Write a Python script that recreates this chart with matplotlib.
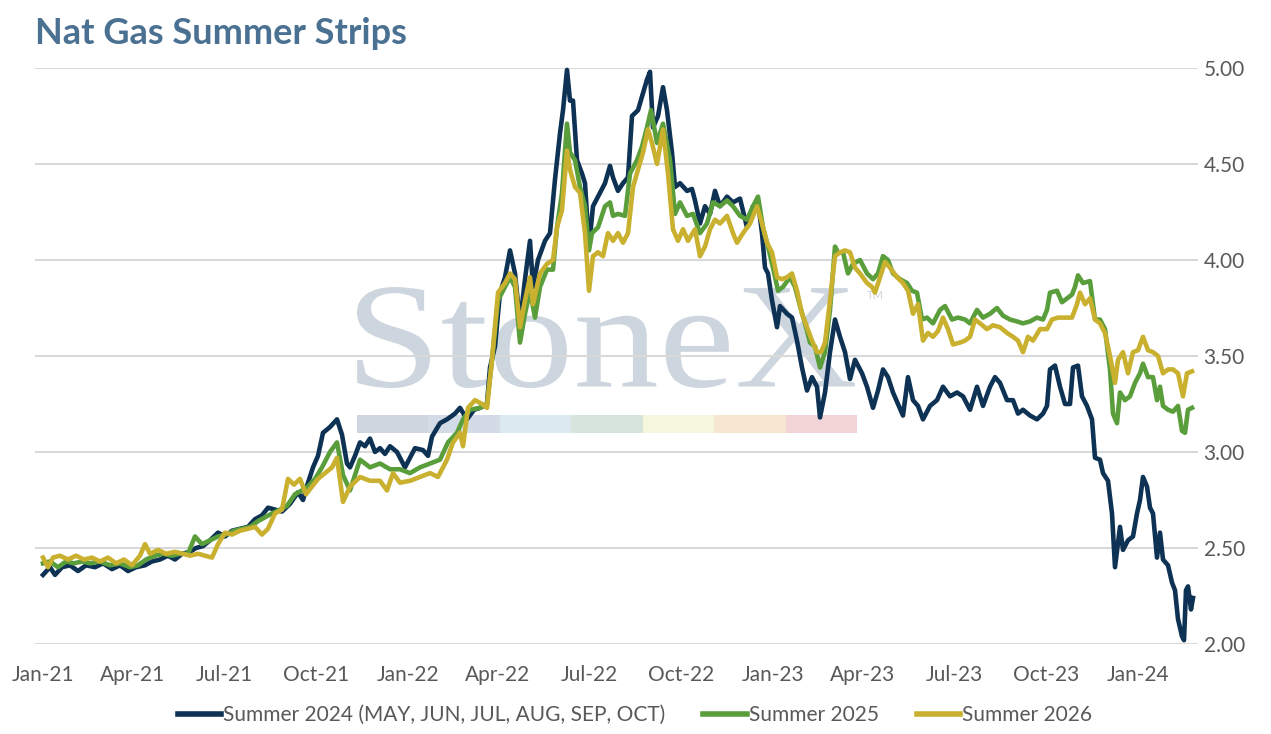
import matplotlib
matplotlib.use("Agg")
import matplotlib.pyplot as plt
import matplotlib.dates as mdates
from matplotlib.patches import Rectangle, PathPatch
from matplotlib.textpath import TextPath
from matplotlib.font_manager import FontProperties
from matplotlib.transforms import Affine2D
import pandas as pd

plt.rcParams['font.family'] = ['Lato', 'DejaVu Sans']

# dates are stored as days after 1 Jan 2021
base_date = pd.Timestamp('2021-01-01')

s24_days = [0, 7, 12, 19, 27, 35, 43, 52, 60, 69, 77, 85, 93, 102, 109, 117, 125, 132, 139, 147,
            153, 160, 167, 175, 182, 189, 197, 205, 212, 219, 225, 232, 239, 247, 255, 260, 265, 270,
            275, 280, 287, 294, 299, 304, 307, 312, 317, 322, 327, 332, 337, 342, 347, 354, 362, 367,
            372, 380, 385, 389, 397, 404, 412, 417, 424, 431, 437, 444, 447, 452, 457, 462, 467, 472,
            477, 482, 487, 490, 495, 502, 507, 512, 517, 520, 524, 527, 530, 534, 539, 542, 546, 550,
            557, 562, 567, 570, 575, 580, 585, 589, 595, 600, 604, 607, 610, 615, 620, 624, 629, 632,
            637, 644, 649, 652, 657, 662, 667, 672, 677, 684, 690, 697, 704, 710, 715, 719, 722, 725,
            729, 734, 737, 744, 749, 754, 759, 764, 769, 774, 777, 782, 787, 792, 797, 802, 807, 812,
            819, 824, 830, 835, 840, 845, 850, 855, 860, 865, 870, 875, 880, 887, 894, 900, 907, 914,
            920, 927, 934, 940, 947, 952, 957, 964, 970, 975, 980, 987, 994, 1000, 1004, 1007, 1012,
            1017, 1022, 1027, 1030, 1035, 1039, 1044, 1049, 1052, 1057, 1060, 1065, 1069, 1072, 1077,
            1080, 1085, 1090, 1094, 1097, 1100, 1104, 1107, 1110, 1114, 1117, 1120, 1125, 1129, 1132,
            1135, 1139, 1141, 1143, 1145, 1148, 1150]
s24_vals = [2.36, 2.40, 2.36, 2.40, 2.41, 2.38, 2.41, 2.40, 2.42, 2.39, 2.41, 2.38, 2.40, 2.41, 2.43,
            2.44, 2.46, 2.44, 2.47, 2.48, 2.50, 2.51, 2.54, 2.58, 2.56, 2.59, 2.60, 2.61, 2.65, 2.67,
            2.71, 2.70, 2.69, 2.73, 2.79, 2.75, 2.84, 2.92, 2.98, 3.10, 3.13, 3.17, 3.09, 2.94, 2.92,
            2.98, 3.05, 3.03, 3.07, 3.00, 3.02, 2.99, 3.03, 3.00, 2.92, 2.97, 3.02, 3.01, 2.98, 3.08,
            3.15, 3.17, 3.20, 3.23, 3.17, 3.22, 3.23, 3.25, 3.44, 3.55, 3.83, 3.91, 4.05, 3.93, 3.67,
            3.90, 4.10, 3.86, 4.00, 4.10, 4.14, 4.42, 4.66, 4.78, 4.99, 4.83, 4.83, 4.52, 4.45, 4.40,
            4.07, 4.28, 4.35, 4.40, 4.49, 4.43, 4.36, 4.40, 4.43, 4.75, 4.78, 4.87, 4.94, 4.98, 4.69,
            4.75, 4.90, 4.78, 4.56, 4.38, 4.40, 4.36, 4.37, 4.31, 4.19, 4.28, 4.24, 4.36, 4.28, 4.33,
            4.30, 4.32, 4.17, 4.28, 4.30, 4.14, 3.96, 3.93, 3.79, 3.65, 3.76, 3.72, 3.70, 3.58, 3.44,
            3.32, 3.39, 3.34, 3.18, 3.31, 3.52, 3.69, 3.60, 3.52, 3.38, 3.48, 3.41, 3.34, 3.23, 3.32,
            3.43, 3.39, 3.31, 3.25, 3.19, 3.39, 3.27, 3.24, 3.17, 3.24, 3.27, 3.34, 3.29, 3.31, 3.29,
            3.22, 3.34, 3.24, 3.34, 3.39, 3.36, 3.27, 3.27, 3.20, 3.22, 3.19, 3.17, 3.20, 3.24, 3.43,
            3.45, 3.34, 3.25, 3.25, 3.44, 3.45, 3.29, 3.24, 3.17, 2.97, 2.96, 2.89, 2.85, 2.68, 2.40,
            2.61, 2.49, 2.54, 2.56, 2.68, 2.75, 2.87, 2.82, 2.71, 2.68, 2.45, 2.58, 2.44, 2.41, 2.32,
            2.28, 2.13, 2.04, 2.02, 2.28, 2.30, 2.18, 2.24]

s25_days = [0, 7, 15, 23, 31, 39, 47, 57, 67, 77, 87, 95, 103, 112, 120, 129, 137, 145, 152, 159,
            167, 175, 183, 191, 199, 207, 215, 222, 229, 237, 244, 252, 259, 265, 272, 279, 287, 294,
            300, 307, 317, 327, 337, 347, 357, 367, 377, 387, 397, 405, 414, 420, 427, 437, 444, 449,
            455, 462, 467, 472, 477, 482, 487, 492, 497, 504, 510, 514, 519, 524, 527, 532, 537, 542,
            546, 549, 555, 562, 567, 570, 575, 582, 587, 594, 599, 604, 608, 614, 620, 627, 632, 637,
            644, 650, 657, 664, 670, 677, 684, 690, 697, 704, 710, 715, 720, 725, 730, 735, 740, 747,
            752, 757, 762, 767, 772, 777, 782, 787, 792, 795, 800, 805, 810, 817, 824, 830, 835, 840,
            845, 850, 857, 864, 869, 874, 879, 884, 890, 897, 902, 909, 915, 922, 927, 934, 940, 947,
            954, 960, 967, 974, 980, 987, 994, 1000, 1004, 1007, 1014, 1019, 1024, 1029, 1032, 1035,
            1040, 1047, 1052, 1057, 1062, 1067, 1070, 1074, 1077, 1082, 1087, 1092, 1097, 1100, 1105,
            1110, 1114, 1117, 1120, 1125, 1130, 1135, 1139, 1142, 1145, 1149]
s25_vals = [2.42, 2.43, 2.40, 2.43, 2.42, 2.43, 2.42, 2.43, 2.41, 2.42, 2.40, 2.41, 2.44, 2.46, 2.47,
            2.46, 2.47, 2.47, 2.56, 2.52, 2.54, 2.56, 2.57, 2.59, 2.60, 2.61, 2.64, 2.66, 2.68, 2.70,
            2.72, 2.78, 2.80, 2.82, 2.86, 2.92, 3.00, 3.05, 2.88, 2.80, 2.96, 2.92, 2.94, 2.91, 2.91,
            2.89, 2.92, 2.94, 2.96, 3.05, 3.10, 3.17, 3.22, 3.23, 3.25, 3.48, 3.79, 3.86, 3.91, 3.86,
            3.57, 3.72, 3.84, 3.70, 3.86, 3.95, 3.95, 4.17, 4.35, 4.71, 4.56, 4.52, 4.38, 4.28, 4.05,
            4.14, 4.17, 4.28, 4.30, 4.23, 4.24, 4.23, 4.45, 4.52, 4.59, 4.69, 4.78, 4.61, 4.71, 4.52,
            4.24, 4.30, 4.23, 4.24, 4.14, 4.19, 4.30, 4.28, 4.31, 4.28, 4.23, 4.21, 4.28, 4.33, 4.17,
            4.07, 3.96, 3.84, 3.86, 3.91, 3.86, 3.76, 3.67, 3.57, 3.55, 3.44, 3.52, 3.74, 4.07, 4.04,
            4.04, 3.93, 3.98, 4.00, 3.93, 3.90, 3.93, 4.02, 4.00, 3.93, 3.90, 3.88, 3.84, 3.83, 3.69,
            3.70, 3.67, 3.74, 3.76, 3.69, 3.70, 3.69, 3.67, 3.74, 3.70, 3.72, 3.75, 3.71, 3.69, 3.68,
            3.67, 3.68, 3.70, 3.69, 3.74, 3.83, 3.84, 3.78, 3.80, 3.82, 3.86, 3.92, 3.88, 3.89, 3.69,
            3.69, 3.64, 3.43, 3.20, 3.15, 3.31, 3.27, 3.29, 3.36, 3.41, 3.46, 3.39, 3.39, 3.27, 3.34,
            3.24, 3.22, 3.21, 3.24, 3.11, 3.10, 3.22, 3.23]

s26_days = [0, 5, 10, 17, 25, 33, 41, 49, 57, 65, 73, 81, 89, 97, 102, 107, 115, 123, 132, 140,
            147, 155, 162, 169, 175, 182, 189, 197, 205, 212, 219, 225, 232, 239, 245, 251, 257, 263,
            269, 275, 282, 289, 294, 300, 307, 317, 327, 337, 344, 350, 357, 367, 377, 387, 395, 404,
            410, 417, 420, 425, 432, 439, 444, 449, 455, 462, 467, 472, 477, 482, 487, 490, 497, 504,
            510, 514, 519, 524, 527, 532, 537, 542, 546, 550, 555, 560, 565, 570, 575, 580, 585, 590,
            595, 600, 605, 609, 614, 620, 625, 630, 635, 640, 645, 652, 657, 662, 667, 672, 677, 684,
            690, 694, 700, 707, 714, 719, 724, 729, 734, 739, 744, 749, 754, 759, 764, 769, 774, 778,
            782, 787, 792, 797, 802, 807, 812, 817, 824, 829, 832, 837, 842, 847, 854, 860, 865, 870,
            875, 880, 885, 890, 895, 900, 905, 910, 917, 922, 927, 932, 937, 944, 950, 957, 964, 970,
            975, 980, 985, 990, 997, 1004, 1009, 1015, 1022, 1029, 1034, 1037, 1042, 1047, 1052, 1057,
            1062, 1067, 1072, 1075, 1080, 1085, 1090, 1095, 1100, 1105, 1110, 1115, 1120, 1125, 1130,
            1135, 1140, 1144, 1149]
s26_vals = [2.45, 2.40, 2.45, 2.46, 2.44, 2.46, 2.44, 2.45, 2.43, 2.45, 2.42, 2.44, 2.41, 2.46, 2.52,
            2.47, 2.49, 2.47, 2.48, 2.47, 2.46, 2.47, 2.46, 2.45, 2.52, 2.58, 2.57, 2.59, 2.60, 2.61,
            2.57, 2.60, 2.68, 2.70, 2.86, 2.83, 2.86, 2.78, 2.82, 2.86, 2.89, 2.92, 2.97, 2.74, 2.82,
            2.87, 2.85, 2.85, 2.80, 2.89, 2.84, 2.85, 2.87, 2.89, 2.87, 2.96, 3.05, 3.10, 3.03, 3.23,
            3.27, 3.25, 3.23, 3.48, 3.83, 3.88, 3.93, 3.90, 3.65, 3.79, 3.91, 3.77, 3.93, 3.98, 4.00,
            4.17, 4.26, 4.57, 4.47, 4.38, 4.35, 4.14, 3.84, 4.02, 4.04, 4.02, 4.14, 4.10, 4.14, 4.09,
            4.14, 4.38, 4.47, 4.56, 4.68, 4.61, 4.50, 4.68, 4.45, 4.16, 4.10, 4.16, 4.10, 4.16, 4.02,
            4.07, 4.16, 4.21, 4.19, 4.23, 4.14, 4.09, 4.14, 4.19, 4.28, 4.19, 4.09, 4.04, 3.91, 3.90,
            3.91, 3.93, 3.84, 3.72, 3.65, 3.58, 3.52, 3.52, 3.57, 3.79, 4.02, 4.04, 4.05, 4.04, 3.96,
            3.93, 3.88, 3.86, 3.83, 3.91, 3.99, 3.96, 3.91, 3.88, 3.84, 3.72, 3.77, 3.58, 3.62, 3.60,
            3.63, 3.70, 3.64, 3.56, 3.57, 3.58, 3.60, 3.69, 3.67, 3.64, 3.66, 3.65, 3.62, 3.60, 3.58,
            3.52, 3.60, 3.58, 3.64, 3.64, 3.69, 3.70, 3.70, 3.70, 3.77, 3.83, 3.77, 3.80, 3.69, 3.67,
            3.62, 3.50, 3.36, 3.48, 3.52, 3.41, 3.52, 3.53, 3.60, 3.53, 3.52, 3.50, 3.41, 3.43, 3.43,
            3.41, 3.29, 3.41, 3.42]

series_names = ['Summer 2024 (MAY, JUN, JUL, AUG, SEP, OCT)', 'Summer 2025', 'Summer 2026']
series_colors = ['#0d3254', '#5a9e3c', '#c9b12f']
bar_colors = ['#cfd6df', '#d3dce6', '#dde9f1', '#d6e4dc', '#f6f6df', '#f8e7d0', '#f2d3d6']


def to_dates(days):
    return base_date + pd.to_timedelta(days, unit='D')


fig = plt.figure(figsize=(12.71, 7.34), dpi=100)
ax = fig.add_axes([35 / 1271, 1 - 644 / 734, 1163 / 1271, 576 / 734])

# StoneX watermark behind the lines, stretched to fit the logo box (in pixels)
wm_path = TextPath((0, 0), 'StoneX', size=1, prop=FontProperties(family='Liberation Serif'))
bb = wm_path.get_extents()
sx = (855 - 357) / bb.width
sy = (388 - 287) / bb.height
wm_tr = (Affine2D().translate(-bb.x0, -bb.y0).scale(sx, sy).translate(357, 734 - 388)
         .scale(1 / 100) + fig.dpi_scale_trans)
ax.add_patch(PathPatch(wm_path, transform=wm_tr, facecolor='#cdd5de', edgecolor='none',
                       zorder=0.3))
ax.text(0.715, 0.605, 'TM', transform=ax.transAxes, fontsize=8, color='#cdd5de',
        ha='left', va='center', zorder=0.3)
seg_w = (0.7068 - 0.2769) / len(bar_colors)
for i, c in enumerate(bar_colors):
    ax.add_patch(Rectangle((0.2769 + i * seg_w, 0.3663), seg_w, 0.03125, transform=ax.transAxes,
                           facecolor=c, edgecolor='none', zorder=0.3))

all_days = [s24_days, s25_days, s26_days]
all_vals = [s24_vals, s25_vals, s26_vals]
for days, vals, name, col in zip(all_days, all_vals, series_names, series_colors):
    ax.plot(to_dates(days), vals, color=col, lw=3.3, label=name, clip_on=False,
            solid_joinstyle='round', zorder=2)

ax.set_ylim(2.0, 5.0)
ax.set_xlim(pd.Timestamp('2020-12-24'), pd.Timestamp('2024-03-01'))
ax.set_yticks([2.0, 2.5, 3.0, 3.5, 4.0, 4.5, 5.0])
ax.yaxis.set_major_formatter(matplotlib.ticker.FormatStrFormatter('%.2f'))
ax.yaxis.tick_right()
ax.xaxis.set_major_locator(mdates.MonthLocator(bymonth=[1, 4, 7, 10]))
ax.xaxis.set_major_formatter(mdates.DateFormatter('%b-%y'))
ax.tick_params(axis='both', length=0, labelsize=15, labelcolor='#595959')
ax.tick_params(axis='x', pad=15)
ax.tick_params(axis='y', pad=4)
ax.grid(axis='y', color='#d9d9d9', lw=1.5)
ax.set_axisbelow(True)
for sp in ax.spines.values():
    sp.set_visible(False)

fig.text(35 / 1271, 1 - 34 / 734, 'Nat Gas Summer Strips', fontsize=26, fontweight='bold',
         color='#4a7191', ha='left', va='center')

leg = fig.legend(loc='center', bbox_to_anchor=(0.4996, 1 - 715 / 734), ncol=3, frameon=False,
                 fontsize=15, handlelength=2.1, handletextpad=0.1, columnspacing=1.8)
for t in leg.get_texts():
    t.set_color('#595959')
for h in leg.get_lines():
    h.set_linewidth(4)

fig.savefig('out.png', dpi=100)
